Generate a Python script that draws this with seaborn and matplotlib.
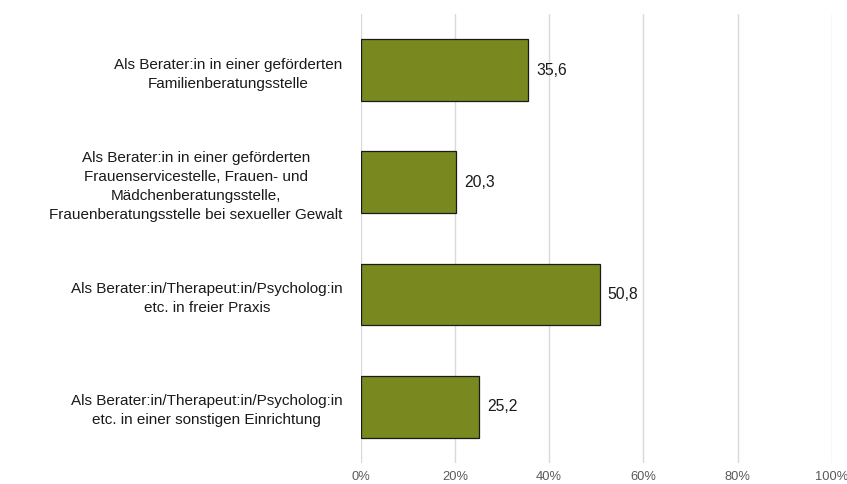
import matplotlib
matplotlib.use("Agg")
import matplotlib.pyplot as plt
import seaborn as sns
import pandas as pd
from matplotlib.ticker import FuncFormatter

categories = [
    "Als Berater:in in einer geförderten\nFamilienberatungsstelle",
    "Als Berater:in in einer geförderten\nFrauenservicestelle, Frauen- und\nMädchenberatungsstelle,\nFrauenberatungsstelle bei sexueller Gewalt",
    "Als Berater:in/Therapeut:in/Psycholog:in\netc. in freier Praxis",
    "Als Berater:in/Therapeut:in/Psycholog:in\netc. in einer sonstigen Einrichtung",
]
values = [35.6, 20.3, 50.8, 25.2]
value_labels = ["35,6", "20,3", "50,8", "25,2"]
x_ticks = [0, 20, 40, 60, 80, 100]

df = pd.DataFrame({"cat": categories, "val": values})

sns.set_theme(style="white")
plt.rcParams["font.family"] = ["Liberation Sans", "DejaVu Sans"]

fig = plt.figure(figsize=(8.47, 4.84), dpi=100)
ax = fig.add_axes([0.4259, 0.0434, 0.5561, 0.9277])

sns.barplot(data=df, x="val", y="cat", orient="h", color="#7A891F",
            saturation=1, width=0.55, edgecolor="#1a1a1a", linewidth=0.9,
            ax=ax, zorder=3)

for i, (v, lab) in enumerate(zip(values, value_labels)):
    ax.text(v + 1.6, i, lab, va="center", ha="left", fontsize=11.3, color="#1a1a1a")

ax.set_xlim(0, 100)
ax.set_ylim(3.5, -0.5)
ax.set_xticks(x_ticks)
ax.xaxis.set_major_formatter(FuncFormatter(lambda x, p: f"{int(x)}%"))
ax.grid(axis="x", color="#d9d9d9", linewidth=1, zorder=0)
ax.grid(axis="y", visible=False)
for s in ax.spines.values():
    s.set_visible(False)
ax.set_xlabel("")
ax.set_ylabel("")
ax.tick_params(axis="x", labelsize=9.3, labelcolor="#595959", length=0, pad=6)
ax.tick_params(axis="y", labelsize=11, labelcolor="#1a1a1a", length=0, pad=13)
for t in ax.get_yticklabels():
    t.set_multialignment("center")
    t.set_linespacing(1.45)

fig.savefig("out.png", dpi=100)
